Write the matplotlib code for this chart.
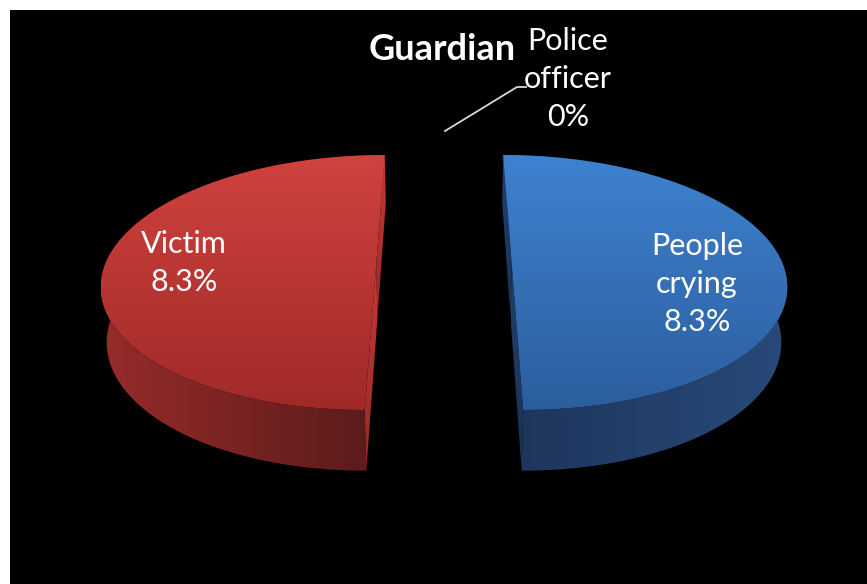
import numpy as np
import matplotlib
matplotlib.use("Agg")
import matplotlib.pyplot as plt
from matplotlib.patches import Polygon, Rectangle

# Data
categories = ["Victim", "People\ncrying", "Police\nofficer"]
values = [8.3, 8.3, 0.0]
pct_labels = ["8.3%", "8.3%", "0%"]
title = "Guardian"

W, H = 867, 584
fig = plt.figure(figsize=(W / 100, H / 100), dpi=100, facecolor="white")
ax = fig.add_axes([0, 0, 1, 1])
ax.set_xlim(0, W)
ax.set_ylim(H, 0)
ax.axis("off")
ax.add_patch(Rectangle((10, 10), W - 10, H - 10, facecolor="black", edgecolor="none", zorder=0))

plt.rcParams["font.family"] = ["Lato", "DejaVu Sans"]

# Perspective camera for the 3-D pie
cx, cy = 444.0, 264.0
F = 1660.0
alpha = np.arctan(861.0 / F)
sa, ca = np.sin(alpha), np.cos(alpha)
D = 6.9 * ca
h = 0.231          # slab thickness (radius units)
explode = 0.25     # explode distance (radius units)


def project(u, v, z):
    w = D + v * ca - z * sa
    yc = v * sa + z * ca
    return cx + F * u / w, cy - F * yc / w


def grad_fill(poly_xy, c0, c1, direction="v", zorder=1):
    poly = Polygon(poly_xy, closed=True, facecolor="none", edgecolor="none")
    ax.add_patch(poly)
    x0, y0 = poly_xy[:, 0].min(), poly_xy[:, 1].min()
    x1, y1 = poly_xy[:, 0].max(), poly_xy[:, 1].max()
    t = np.linspace(0, 1, 256)
    c0 = np.array(c0) / 255.0
    c1 = np.array(c1) / 255.0
    col = c0[None, :] * (1 - t[:, None]) + c1[None, :] * t[:, None]
    if direction == "v":
        img = np.repeat(col[:, None, :], 4, axis=1)
    else:
        img = np.repeat(col[None, :, :], 4, axis=0)
    im = ax.imshow(img, extent=(x0, x1, y1, y0), origin="upper",
                   aspect="auto", interpolation="bilinear", zorder=zorder)
    im.set_clip_path(poly)


styles = [
    dict(top=((208, 66, 62), (160, 42, 40)), side=((150, 44, 42), (88, 26, 26)),
         radial=((196, 58, 54), (150, 40, 38))),
    dict(top=((62, 130, 208), (44, 94, 158)), side=((30, 52, 90), (40, 74, 122)),
         radial=((34, 62, 104), (28, 50, 86))),
    dict(top=((150, 150, 150), (120, 120, 120)), side=((90, 90, 90), (60, 60, 60)),
         radial=((90, 90, 90), (60, 60, 60))),
]

total = sum(values)
start = 90.0
label_pos = [(184, 263), (697, 284)]
for i, (cat, val, pct) in enumerate(zip(categories, values, pct_labels)):
    span = 360.0 * val / total
    a0, a1 = start, start + span
    start = a1
    if span <= 0:
        continue
    mid = np.deg2rad((a0 + a1) / 2)
    ou, ov = explode * np.cos(mid), explode * np.sin(mid)
    th = np.deg2rad(np.linspace(a0, a1, 200))
    u = ou + np.cos(th)
    v = ov + np.sin(th)
    st = styles[i]

    # outer wall
    tx, ty = project(u, v, 0.0)
    bx, by = project(u, v, -h)
    wall = np.column_stack([np.r_[tx, bx[::-1]], np.r_[ty, by[::-1]]])
    grad_fill(wall, st["side"][0], st["side"][1], direction="h", zorder=2)

    # radial faces
    for a in (a0, a1):
        ar = np.deg2rad(a)
        pu, pv = ou + np.cos(ar), ov + np.sin(ar)
        p = [project(ou, ov, 0), project(pu, pv, 0), project(pu, pv, -h), project(ou, ov, -h)]
        grad_fill(np.array(p), st["radial"][0], st["radial"][1], direction="v", zorder=3)

    # top face
    cxp, cyp = project(ou, ov, 0.0)
    top = np.column_stack([np.r_[cxp, tx], np.r_[cyp, ty]])
    grad_fill(top, st["top"][0], st["top"][1], direction="v", zorder=4)

    lx, ly = label_pos[i]
    ax.text(lx, ly, f"{cat}\n{pct}", color="white", fontsize=22, ha="center",
            va="center", linespacing=1.42, zorder=10)

# zero-value slice label with leader line
ax.plot([445, 517, 526], [131, 87, 87], color="#d9d9d9", lw=1.3, zorder=10)
ax.text(568, 79, f"{categories[2]}\n{pct_labels[2]}", color="white", fontsize=22,
        ha="center", va="center", linespacing=1.42, zorder=10)

ax.text(442, 49, title, color="white", fontsize=26, fontweight="bold",
        ha="center", va="center", zorder=10)

fig.savefig("out.png", dpi=100, facecolor="white")
